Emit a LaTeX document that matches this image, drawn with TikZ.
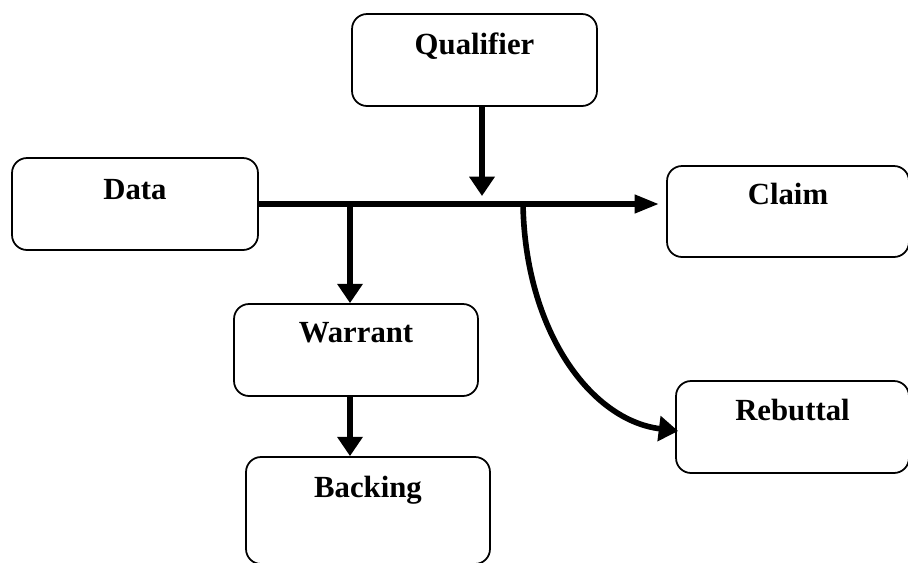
\documentclass[tikz,border=0pt]{standalone}
\usepackage{fontspec}
\setmainfont{Liberation Serif}
\usetikzlibrary{arrows.meta}
\begin{document}
\begin{tikzpicture}[x=0.02cm,y=-0.02cm,
  box/.style={draw, line width=1pt, rounded corners=0.3cm, inner sep=0pt},
  lbl/.style={font=\bfseries\fontsize{17.5}{20}\selectfont, anchor=base, inner sep=0pt},
  link/.style={line width=3.2pt, -{Triangle[length=11pt,width=14pt]}},
]
\useasboundingbox (0,0) rectangle (908,562);

% boxes
\node[box, minimum width=4.90cm, minimum height=1.84cm] (Qualifier) at (474.5,60) {};
\node[box, minimum width=4.92cm, minimum height=1.84cm] (Data)      at (135,204) {};
\node[box, minimum width=4.84cm, minimum height=1.82cm] (Claim)     at (788,211.5) {};
\node[box, minimum width=4.66cm, minimum height=1.84cm] (Rebuttal)  at (792.5,427) {};
\node[box, minimum width=4.88cm, minimum height=1.84cm] (Warrant)   at (356,350) {};
\node[box, minimum width=4.88cm, minimum height=2.14cm] (Backing)   at (368,510.5) {};

% labels, set near the top of each box
\node[lbl] (Qualifier-t) at ([yshift=-0.82cm]Qualifier.north) {Qualifier};
\node[lbl] (Data-t)      at ([yshift=-0.84cm]Data.north) {Data};
\node[lbl] (Claim-t)     at ([yshift=-0.78cm]Claim.north) {Claim};
\node[lbl] (Warrant-t)   at ([yshift=-0.78cm]Warrant.north) {Warrant};
\node[lbl] (Backing-t)   at ([yshift=-0.82cm]Backing.north) {Backing};
\node[lbl] (Rebuttal-t)  at ([yshift=-0.80cm]Rebuttal.north) {Rebuttal};

% branch points on the main line
\coordinate (jw) at (350,204);
\coordinate (jr) at (523,204);
\coordinate (jq) at (482,196);

% connectors
\draw[link, -{Triangle[length=14pt,width=10pt]}, shorten >=4pt]
  (Data.east) -- (Data.east -| Claim.west);
\draw[link] (jq |- Qualifier.south) -- (jq);
\draw[link] (jw) -- (jw |- Warrant.north);
\draw[link] (jw |- Warrant.south) -- (jw |- Backing.north);
\draw[link] (jr) .. controls (525,330) and (590,420) .. ([xshift=0.06cm,yshift=-0.08cm]Rebuttal.west);
\end{tikzpicture}
\end{document}
